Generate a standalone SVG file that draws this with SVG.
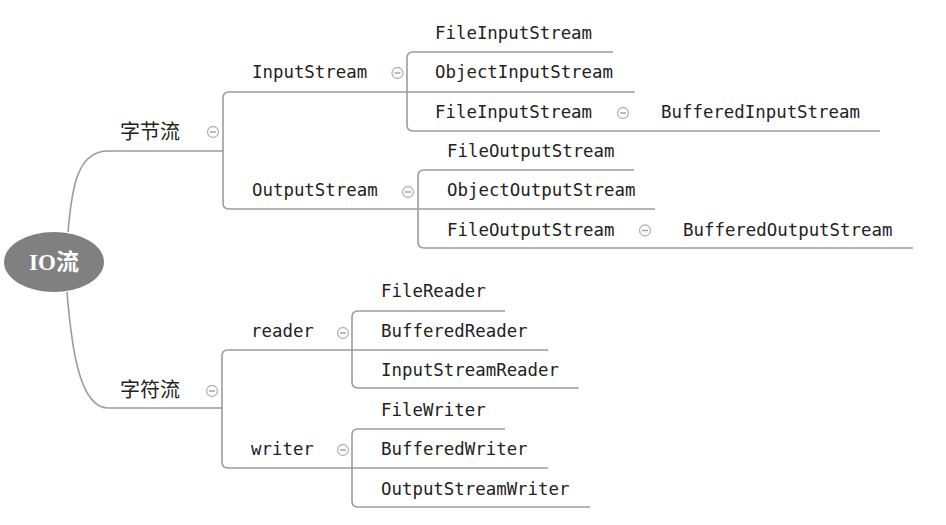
<svg xmlns="http://www.w3.org/2000/svg" width="946" height="525" viewBox="0 0 946 525">
<style>
.lbl{font-family:"DejaVu Sans Mono","Liberation Mono",monospace;font-size:17.4px;fill:#222}
.cjk{font-family:"Noto Sans CJK SC",sans-serif;font-size:20px;fill:#222}
.conn{fill:none;stroke:#9c9c9c;stroke-width:1.6}
.tog circle{fill:#fff;stroke:#b4b4b4;stroke-width:1.3}
.tog line{stroke:#8a94c0;stroke-width:1.3}
</style>
<defs>
<g id="minus" class="tog"><circle cx="0" cy="0" r="5.5"/><line x1="-3" y1="0" x2="3" y2="0"/></g>
</defs>
<rect width="946" height="525" fill="#fff"/>
<g id="connectors">
<path class="conn" d="M68,232 C72,185 78,151 108,151 L223,151"/>
<path class="conn" d="M67,292 C71,340 78,408 108,408 L222,408"/>
<path class="conn" d="M635,92 L229,92 Q223,92 223,98 L223,203 Q223,209 229,209 L655,209"/>
<path class="conn" d="M613,52 L413,52 Q407,52 407,58 L407,125 Q407,131 413,131 L880,131"/>
<path class="conn" d="M634,170 L424,170 Q418,170 418,176 L418,242 Q418,248 424,248 L913,248"/>
<path class="conn" d="M548,350 L228,350 Q222,350 222,356 L222,462 Q222,468 228,468 L548,468"/>
<path class="conn" d="M505,311 L358,311 Q352,311 352,317 L352,382 Q352,388 358,388 L579,388"/>
<path class="conn" d="M505,429 L358,429 Q352,429 352,435 L352,501 Q352,507 358,507 L590,507"/>
</g>
<g id="root">
<ellipse cx="54" cy="262" rx="50" ry="30" fill="#808080"/>
<text x="54" y="270" text-anchor="middle" font-family="'Liberation Serif','Noto Sans CJK SC',serif" font-size="23" font-weight="bold" fill="#fff">IO流</text>
</g>
<g id="byte"><text class="cjk" x="120" y="139">字节流</text><use href="#minus" x="213" y="132"/></g>
<g id="char"><text class="cjk" x="120" y="397">字符流</text><use href="#minus" x="212" y="391"/></g>
<g id="inputstream"><text class="lbl" x="252" y="78">InputStream</text><use href="#minus" x="397.5" y="73"/></g>
<g id="fileinputstream1"><text class="lbl" x="435" y="39">FileInputStream</text></g>
<g id="objectinputstream"><text class="lbl" x="435" y="78">ObjectInputStream</text></g>
<g id="fileinputstream2"><text class="lbl" x="435" y="117.5">FileInputStream</text><use href="#minus" x="623" y="113"/></g>
<g id="bufferedinputstream"><text class="lbl" x="661" y="117.5">BufferedInputStream</text></g>
<g id="outputstream"><text class="lbl" x="252" y="196">OutputStream</text><use href="#minus" x="408" y="192"/></g>
<g id="fileoutputstream1"><text class="lbl" x="447" y="157">FileOutputStream</text></g>
<g id="objectoutputstream"><text class="lbl" x="447" y="196">ObjectOutputStream</text></g>
<g id="fileoutputstream2"><text class="lbl" x="447" y="235.5">FileOutputStream</text><use href="#minus" x="645" y="230.5"/></g>
<g id="bufferedoutputstream"><text class="lbl" x="683" y="235.5">BufferedOutputStream</text></g>
<g id="reader"><text class="lbl" x="251" y="337">reader</text><use href="#minus" x="343" y="333"/></g>
<g id="filereader"><text class="lbl" x="381" y="297">FileReader</text></g>
<g id="bufferedreader"><text class="lbl" x="381" y="337">BufferedReader</text></g>
<g id="inputstreamreader"><text class="lbl" x="381" y="376">InputStreamReader</text></g>
<g id="writer"><text class="lbl" x="251" y="455">writer</text><use href="#minus" x="343" y="450"/></g>
<g id="filewriter"><text class="lbl" x="381" y="416">FileWriter</text></g>
<g id="bufferedwriter"><text class="lbl" x="381" y="455">BufferedWriter</text></g>
<g id="outputstreamwriter"><text class="lbl" x="381" y="494.5">OutputStreamWriter</text></g>
</svg>
